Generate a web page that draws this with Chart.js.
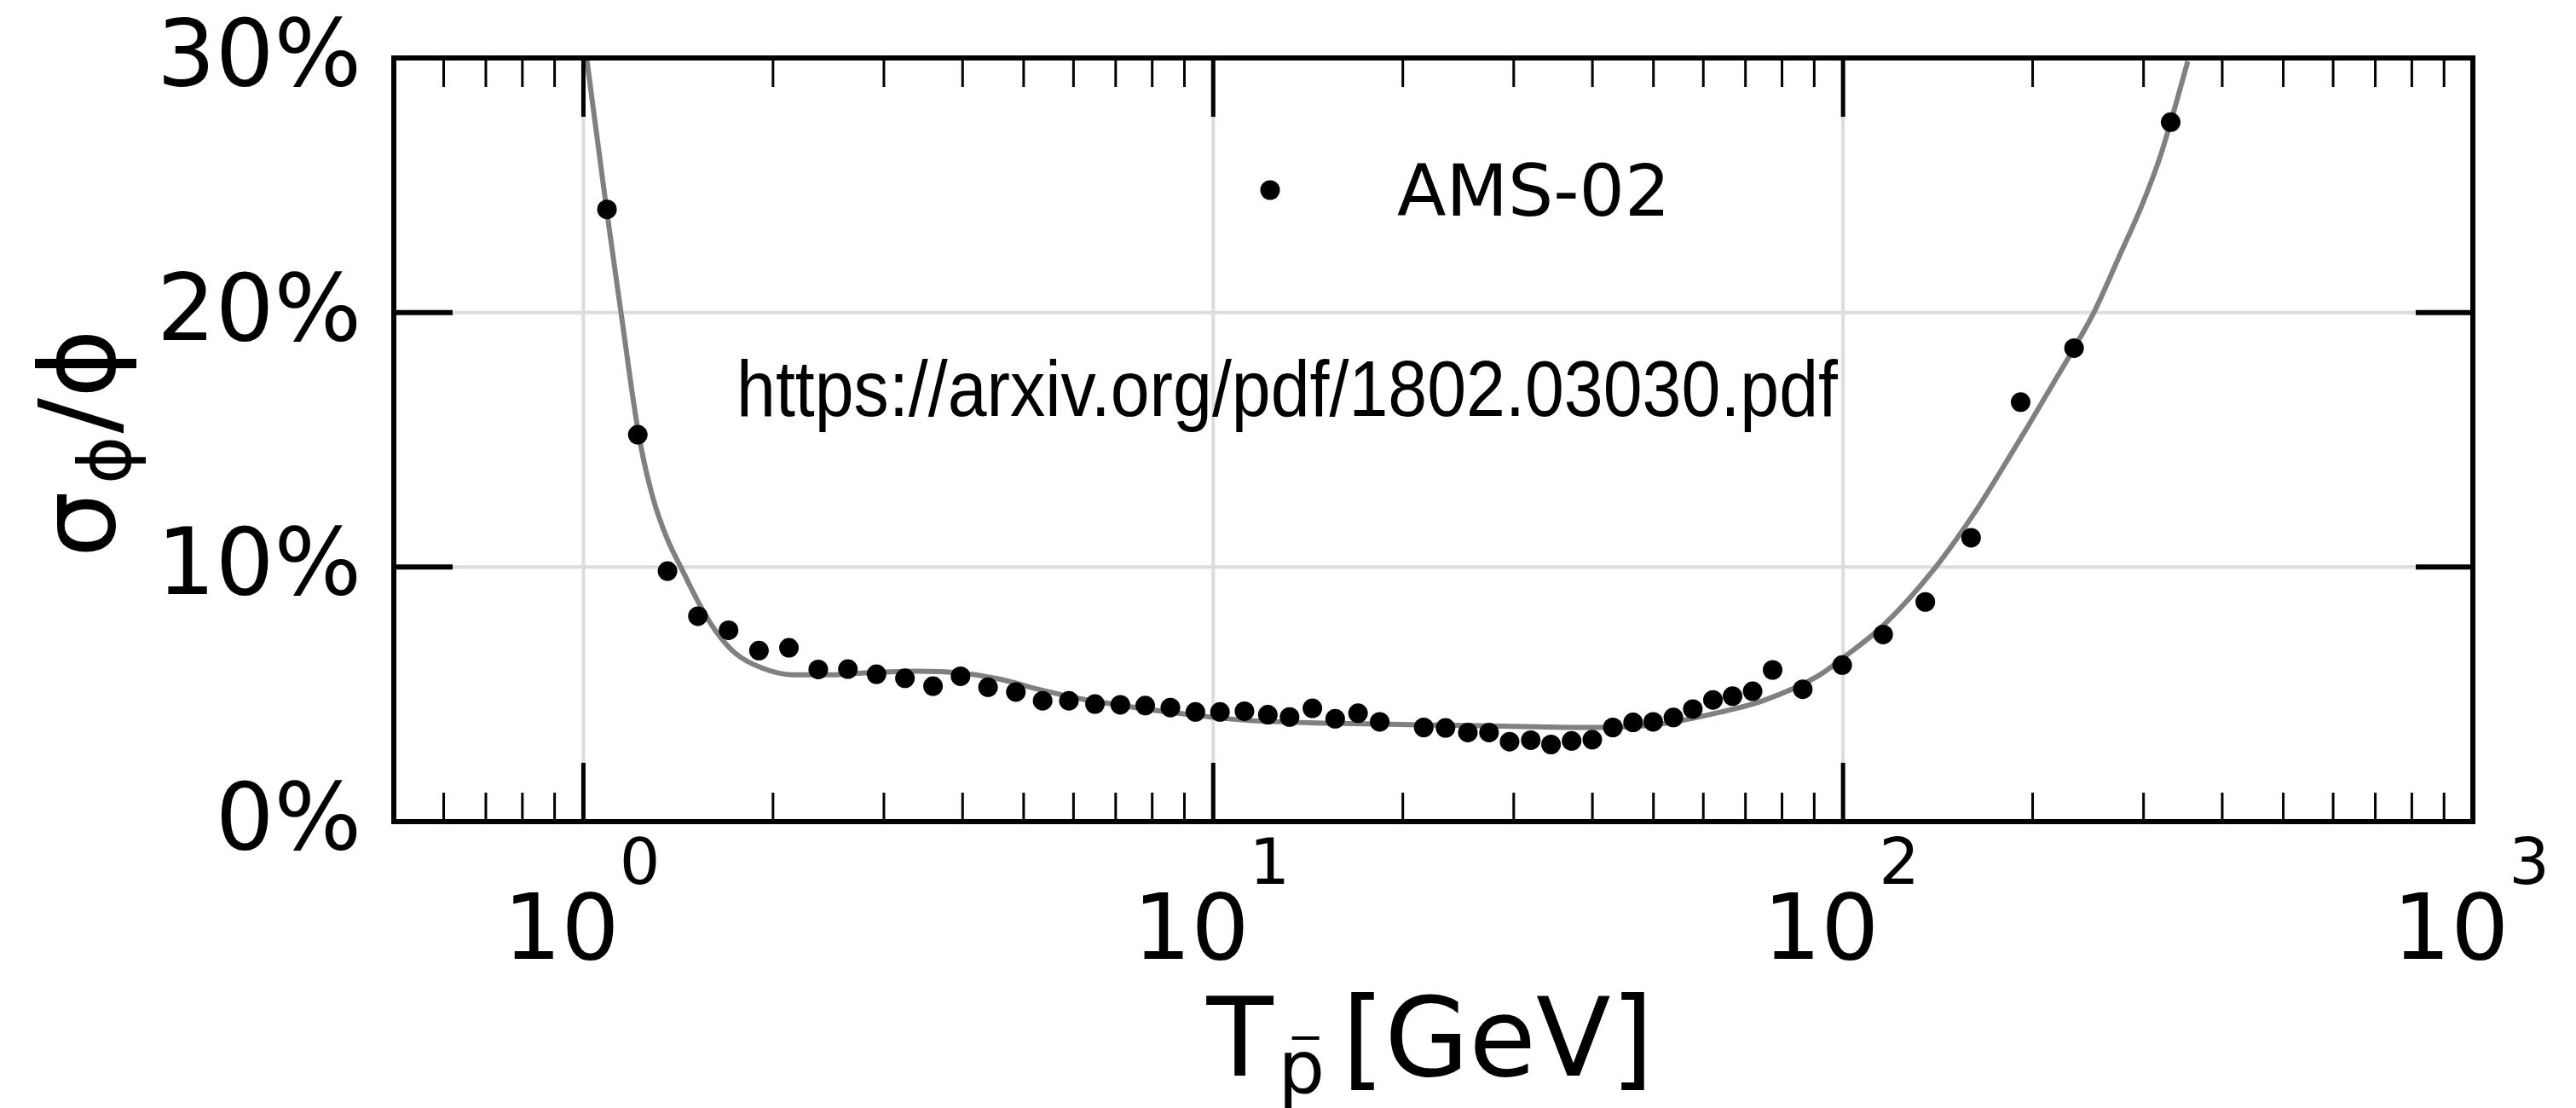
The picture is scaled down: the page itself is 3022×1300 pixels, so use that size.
<!DOCTYPE html>
<html>
<head>
<meta charset="utf-8">
<title>AMS-02 antiproton flux uncertainty</title>
<script src="https://cdn.jsdelivr.net/npm/chart.js@4.4.0/dist/chart.umd.min.js"></script>
<style>
    html, body { margin: 0; padding: 0; background: #ffffff; }
    canvas { display: block; }
</style>
</head>
<body>
<canvas id="errorChart" width="3022" height="1300" style="width:3022px;height:1300px"></canvas>
<script>
// AMS-02 data points: kinetic energy [GeV] and relative flux error [%]
const energies = [1.09, 1.22, 1.36, 1.52, 1.70, 1.90, 2.12, 2.36, 2.63, 2.92,
    3.24, 3.59, 3.97, 4.39, 4.86, 5.36, 5.90, 6.49, 7.12, 7.80,
    8.55, 9.37, 10.25, 11.21, 12.21, 13.22, 14.37, 15.62, 16.98, 18.38,
    21.59, 23.38, 25.37, 27.41, 29.55, 31.93, 34.38, 37.07, 39.98, 43.1,
    46.41, 49.95, 53.78, 57.74, 62.15, 66.77, 71.85, 77.3, 86.3, 99.7,
    115.8, 135.1, 159.7, 191.4, 232.7, 331.3];
const relErrors = [24.05, 15.2, 9.84, 8.07, 7.52, 6.72, 6.83, 5.98, 5.99, 5.79,
    5.63, 5.32, 5.71, 5.28, 5.09, 4.75, 4.75, 4.62, 4.59, 4.56,
    4.48, 4.31, 4.31, 4.34, 4.20, 4.11, 4.45, 4.04, 4.26, 3.92,
    3.70, 3.68, 3.50, 3.50, 3.14, 3.20, 3.03, 3.17, 3.22, 3.70,
    3.90, 3.92, 4.09, 4.42, 4.78, 4.93, 5.12, 5.96, 5.20, 6.15,
    7.35, 8.63, 11.15, 16.48, 18.6, 27.48];

// grey fit curve
const curveEnergies = [1.012, 1.089, 1.151, 1.206, 1.231, 1.290, 1.359, 1.431, 1.523, 1.621,
    1.743, 1.914, 2.146, 2.508, 2.79, 3.40, 3.97, 4.58, 5.37, 6.17,
    7.53, 9.2, 11.3, 15.26, 20.5, 27.6, 40.4, 50.3, 61.2, 74.8,
    91.1, 100.7, 115.9, 139.8, 162.4, 182.3, 197.1, 216.3, 232.7, 250.2,
    274.8, 298.5, 317.8, 331.3, 352.7];
const curveErrors = [30.0, 24.0, 19.76, 16.2, 14.86, 12.7, 11.1, 9.95, 8.61, 7.50,
    6.61, 6.05, 5.77, 5.77, 5.84, 5.91, 5.84, 5.60, 5.15, 4.82,
    4.48, 4.2, 3.98, 3.87, 3.81, 3.76, 3.70, 3.81, 4.2, 4.76,
    5.71, 6.49, 7.71, 9.95, 12.2, 14.19, 15.58, 17.27, 18.6, 20.0,
    22.23, 24.24, 26.02, 27.48, 29.87];

const xMajorTicks = [1, 10, 100, 1000];
const xExponents = ['0', '1', '2', '3'];
const xMinorTicks = [0.6, 0.7, 0.8, 0.9, 2, 3, 4, 5, 6, 7, 8, 9,
    20, 30, 40, 50, 60, 70, 80, 90, 200, 300, 400, 500, 600, 700, 800, 900];
const xGridTicks = [1, 10, 100];
const yTicks = [0, 10, 20, 30];
const yTickLabels = ['0%', '10%', '20%', '30%'];
const yGridTicks = [10, 20];

const legendLabel = 'AMS-02';
const sourceNote = 'https://arxiv.org/pdf/1802.03030.pdf';

const FONT = '"DejaVu Sans", "Noto Sans", sans-serif';

function line(ctx, x1, y1, x2, y2) {
    ctx.beginPath();
    ctx.moveTo(x1, y1);
    ctx.lineTo(x2, y2);
    ctx.stroke();
}

// gridlines go under the data
function drawGrid(chart) {
    const ctx = chart.ctx;
    const area = chart.chartArea;
    const x = chart.scales.x;
    const y = chart.scales.y;
    ctx.save();
    ctx.strokeStyle = '#dcdcdc';
    ctx.lineWidth = 4;
    xGridTicks.forEach(v => {
        const px = x.getPixelForValue(v);
        line(ctx, px, area.top, px, area.bottom);
    });
    yGridTicks.forEach(v => {
        const py = y.getPixelForValue(v);
        line(ctx, area.left, py, area.right, py);
    });
    ctx.restore();
}

function drawFrameAndTicks(chart) {
    const ctx = chart.ctx;
    const area = chart.chartArea;
    const x = chart.scales.x;
    const y = chart.scales.y;
    ctx.save();
    ctx.strokeStyle = '#000';

    // inward ticks, bottom and top
    ctx.lineWidth = 3;
    xMinorTicks.forEach(v => {
        const px = x.getPixelForValue(v);
        line(ctx, px, area.bottom, px, area.bottom - 34);
        line(ctx, px, area.top, px, area.top + 34);
    });
    ctx.lineWidth = 5;
    xMajorTicks.forEach(v => {
        const px = x.getPixelForValue(v);
        line(ctx, px, area.bottom, px, area.bottom - 69);
        line(ctx, px, area.top, px, area.top + 69);
    });

    // inward ticks, left and right
    ctx.lineWidth = 6;
    yTicks.forEach(v => {
        const py = y.getPixelForValue(v);
        line(ctx, area.left, py, area.left + 69, py);
        line(ctx, area.right, py, area.right - 67, py);
    });

    ctx.lineWidth = 6;
    ctx.strokeRect(area.left, area.top, area.right - area.left, area.bottom - area.top);
    ctx.restore();
}

function drawTickLabels(chart) {
    const ctx = chart.ctx;
    const area = chart.chartArea;
    const x = chart.scales.x;
    const y = chart.scales.y;
    ctx.save();
    ctx.fillStyle = '#000';

    // y: percent labels
    ctx.font = '108px ' + FONT;
    ctx.textAlign = 'right';
    ctx.textBaseline = 'alphabetic';
    yTicks.forEach((v, i) => {
        ctx.fillText(yTickLabels[i], area.left - 38, y.getPixelForValue(v) + 32);
    });

    // x: 10 with a raised exponent
    ctx.textAlign = 'left';
    xMajorTicks.forEach((v, i) => {
        const px = x.getPixelForValue(v);
        ctx.font = '107px ' + FONT;
        const wBase = ctx.measureText('10').width;
        ctx.font = '75px ' + FONT;
        const wExp = ctx.measureText(xExponents[i]).width;
        const x0 = px - (wBase + wExp) / 2 - 2;
        ctx.font = '107px ' + FONT;
        ctx.fillText('10', x0, 1125);
        ctx.font = '75px ' + FONT;
        ctx.fillText(xExponents[i], x0 + wBase, 1037);
    });
    ctx.restore();
}

function drawAxisTitles(chart) {
    const ctx = chart.ctx;
    const area = chart.chartArea;
    ctx.save();
    ctx.fillStyle = '#000';
    ctx.textAlign = 'left';
    ctx.textBaseline = 'alphabetic';

    // x title: T_pbar [GeV]
    const mainFont = '128px ' + FONT;
    const subFont = '86px ' + FONT;
    ctx.font = mainFont;
    const wT = ctx.measureText('T').width;
    const wUnit = ctx.measureText('[GeV]').width;
    ctx.font = subFont;
    const wP = ctx.measureText('p').width;
    const total = wT + 6 + wP + 20 + wUnit;
    let cx = (area.left + area.right) / 2 - total / 2 - 4;
    const base = 1262;
    ctx.font = mainFont;
    ctx.fillText('T', cx, base);
    cx += wT + 6;
    ctx.font = subFont;
    ctx.fillText('p', cx, base + 20);
    ctx.fillRect(cx + 16, 1216, 32, 4);
    cx += wP + 20;
    ctx.font = mainFont;
    ctx.fillText('[GeV]', cx, base);

    // y title: sigma_phi / phi, rotated
    const yMain = '123px ' + FONT;
    const ySub = '86px ' + FONT;
    ctx.font = yMain;
    const wSigma = ctx.measureText('σ').width;
    const wSlash = ctx.measureText('/').width;
    const wPhi = ctx.measureText('ϕ').width;
    ctx.font = ySub;
    const wSubPhi = ctx.measureText('ϕ').width;
    const len = wSigma + 8 + wSubPhi + 3 + wSlash + wPhi;
    const midY = (area.top + area.bottom) / 2 + 4;
    ctx.translate(134, midY + len / 2);
    ctx.rotate(-Math.PI / 2);
    let t = 0;
    ctx.font = yMain;
    ctx.fillText('σ', t, 0);
    t += wSigma + 8;
    ctx.font = ySub;
    ctx.fillText('ϕ', t, 19);
    t += wSubPhi + 3;
    ctx.font = yMain;
    ctx.fillText('/', t, 0);
    t += wSlash;
    ctx.fillText('ϕ', t, 0);
    ctx.restore();
}

function drawLegendAndNote(chart) {
    const ctx = chart.ctx;
    ctx.save();
    ctx.fillStyle = '#000';

    ctx.beginPath();
    ctx.arc(1490, 223, 11.5, 0, Math.PI * 2);
    ctx.fill();
    ctx.font = '84px ' + FONT;
    ctx.textAlign = 'left';
    ctx.textBaseline = 'alphabetic';
    ctx.fillText(legendLabel, 1639, 253);

    // source link, a narrow sans
    ctx.font = '93px "Liberation Sans", Arial, sans-serif';
    const w = ctx.measureText(sourceNote).width;
    ctx.translate(864, 488);
    ctx.scale(1292 / w, 1);
    ctx.fillText(sourceNote, 0, 0);
    ctx.restore();
}

const framePlugin = {
    id: 'frame',
    beforeDatasetsDraw(chart) {
        drawGrid(chart);
    },
    afterDatasetsDraw(chart) {
        drawFrameAndTicks(chart);
        drawTickLabels(chart);
        drawAxisTitles(chart);
        drawLegendAndNote(chart);
    }
};

document.addEventListener('DOMContentLoaded', function() {
    const points = energies.map((e, i) => ({ x: e, y: relErrors[i] }));
    const curve = curveEnergies.map((e, i) => ({ x: e, y: curveErrors[i] }));

    const ctx = document.getElementById('errorChart').getContext('2d');
    new Chart(ctx, {
        type: 'scatter',
        data: {
            datasets: [{
                label: legendLabel,
                data: points,
                showLine: false,
                pointRadius: 11.5,
                pointBorderWidth: 0,
                pointBackgroundColor: '#000000'
            }, {
                label: 'fit',
                data: curve,
                showLine: true,
                pointRadius: 0,
                borderColor: '#808080',
                borderWidth: 6,
                cubicInterpolationMode: 'monotone'
            }]
        },
        options: {
            responsive: false,
            animation: false,
            devicePixelRatio: 1,
            layout: {
                padding: { left: 462, right: 121, top: 68, bottom: 336 }
            },
            plugins: {
                legend: { display: false },
                tooltip: { enabled: false }
            },
            scales: {
                x: { type: 'logarithmic', min: 0.5, max: 1000, display: false },
                y: { type: 'linear', min: 0, max: 30, display: false }
            }
        },
        plugins: [framePlugin]
    });
});
</script>
</body>
</html>
